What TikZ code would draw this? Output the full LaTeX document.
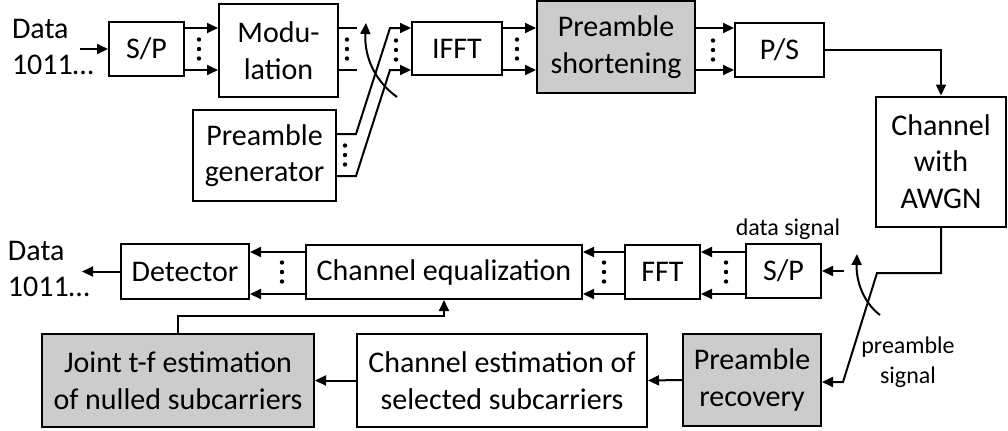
\documentclass[tikz,border=0pt]{standalone}
\usepackage{fontspec}
\setmainfont{Carlito}
\usetikzlibrary{arrows.meta}
\begin{document}
\begin{tikzpicture}[x=0.5pt,y=-0.5pt,
  line width=1pt,
  box/.style={draw,line width=1pt,inner sep=0pt,align=center,
    font=\fontsize{15}{18.3}\selectfont},
  shaded/.style={box,fill=black!20},
  lbl/.style={inner sep=0pt,align=left,anchor=west,font=\fontsize{15}{18.3}\selectfont},
  small/.style={inner sep=0pt,align=center,font=\fontsize{12}{15}\selectfont},
  arr/.style={-{Triangle[length=5.5pt,width=5pt]}}]
\useasboundingbox (0,0) rectangle (1008,430);

% three stacked dots marking parallel streams
\newcommand{\streamdots}[2]{%
  \fill (#1,#2-9.5) circle (1.1pt) (#1,#2) circle (1.1pt) (#1,#2+9.5) circle (1.1pt);}

% ---------- transmitter ----------
\node[lbl] (din) at (11,47) {Data\\1011…};
\node[box,minimum width=37.5pt,minimum height=27pt] (sp1) at (146.5,49) {S/P};
\node[box,minimum width=59.5pt,minimum height=46.5pt] (mod) at (278.5,50.5) {Modu-\\lation};
\node[box,minimum width=71.5pt,minimum height=45.5pt] (gen) at (264.5,155.5) {Preamble\\generator};
\node[box,minimum width=45pt,minimum height=26.5pt] (ifft) at (457,48.5) {IFFT};
\node[shaded,minimum width=79pt,minimum height=46pt] (short) at (616,47) {Preamble\\shortening};
\node[box,minimum width=44.5pt,minimum height=27pt] (ps) at (779.5,50) {P/S};
\node[box,minimum width=65pt,minimum height=65pt] (chan) at (941,161.5) {Channel\\with\\AWGN};

\coordinate (r1) at (0,28);
\coordinate (r2) at (0,70);
\coordinate (g1) at (0,134);
\coordinate (g2) at (0,176);

\coordinate (dstart) at (80,49);
\draw[arr] (dstart) -- (sp1.west);
\draw[arr] (sp1.east |- r1) -- (mod.west |- r1);
\draw[arr] (sp1.east |- r2) -- (mod.west |- r2);
\streamdots{199}{49}

\coordinate (m1) at (357,28);
\coordinate (m2) at (357,70);
\draw (mod.east |- r1) -- (m1);
\draw (mod.east |- r2) -- (m2);
\streamdots{347}{49}

\coordinate (k1) at (356,134);
\coordinate (k2) at (356,176);
\coordinate (j1) at (390,28);
\coordinate (j2) at (390,70);
\draw[arr] (gen.east |- g1) -- (k1) -- (j1) -- (ifft.west |- r1);
\draw[arr] (gen.east |- g2) -- (k2) -- (j2) -- (ifft.west |- r2);
\streamdots{345}{155}
\streamdots{396}{50}

% switch between data and preamble
\coordinate (sw1) at (397,97);
\coordinate (sw1t) at (366,23);
\draw[arr] (sw1) .. controls (376,82) and (364,58) .. (sw1t);

\draw[arr] (ifft.east |- r1) -- (short.west |- r1);
\draw[arr] (ifft.east |- r2) -- (short.west |- r2);
\streamdots{517}{49}

\draw[arr] (short.east |- r1) -- (ps.west |- r1);
\draw[arr] (short.east |- r2) -- (ps.west |- r2);
\streamdots{713}{50}

\draw[arr] (ps.east) -| (chan.north);

% ---------- receiver ----------
\node[box,minimum width=64pt,minimum height=27.5pt] (det) at (185,271.5) {Detector};
\node[box,minimum width=138pt,minimum height=27pt] (eq) at (444,272) {Channel equalization};
\node[box,minimum width=37.5pt,minimum height=27pt] (fft) at (662.5,272) {FFT};
\node[box,minimum width=37.5pt,minimum height=27pt] (sp2) at (783.5,271) {S/P};
\node[shaded,minimum width=136pt,minimum height=46.5pt] (joint) at (178,380.5) {Joint t-f estimation\\of nulled subcarriers};
\node[box,minimum width=145pt,minimum height=46.5pt] (est) at (502,380.5) {Channel estimation of\\selected subcarriers};
\node[shaded,minimum width=69pt,minimum height=46pt] (rec) at (752,380) {Preamble\\recovery};
\node[lbl] (dout) at (7,269) {Data\\1011…};

\node[small] (dsig) at (788,229) {data signal};
\node[small] (psig) at (908,362) {preamble\\signal};

\coordinate (b1) at (0,252);
\coordinate (b2) at (0,294);

\coordinate (c1) at (941,273);
\coordinate (c2) at (877,273);
\coordinate (c3) at (843,382);
\draw[arr] (chan.south) -- (c1) -- (c2) -- (c3) -- (rec.east |- c3);

\coordinate (dsrc) at (844,271);
\draw[arr] (dsrc) -- (sp2.east);

% switch between data signal and preamble signal
\coordinate (sw2) at (880,315);
\coordinate (sw2t) at (857,254);
\draw[arr] (sw2) .. controls (864,303) and (856,282) .. (sw2t);

\draw[arr] (sp2.west |- b1) -- (fft.east |- b1);
\draw[arr] (sp2.west |- b2) -- (fft.east |- b2);
\streamdots{726}{272}

\draw[arr] (fft.west |- b1) -- (eq.east |- b1);
\draw[arr] (fft.west |- b2) -- (eq.east |- b2);
\streamdots{604}{272}

\draw[arr] (eq.west |- b1) -- (det.east |- b1);
\draw[arr] (eq.west |- b2) -- (det.east |- b2);
\streamdots{282}{272}

\coordinate (dend) at (82,271.5);
\draw[arr] (det.west) -- (dend);

\draw[arr] (rec.west) -- (est.east);
\draw[arr] (est.west) -- (joint.east);
\draw[arr] (joint.north) -- ++(0,-17) -| (eq.south);
\end{tikzpicture}
\end{document}
